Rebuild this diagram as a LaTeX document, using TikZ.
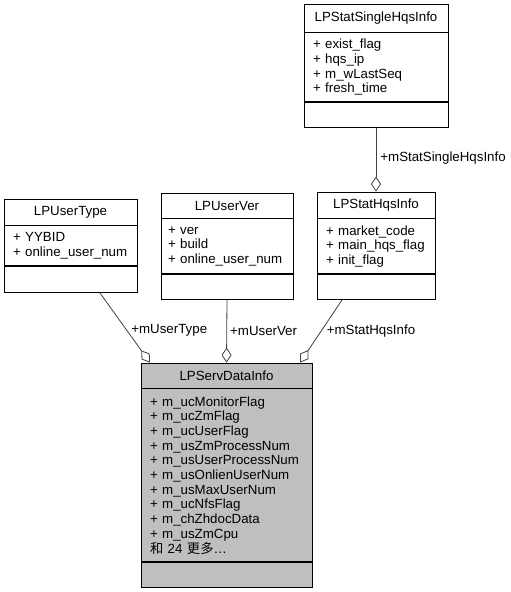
\documentclass[tikz,border=0pt]{standalone}
\usepackage{fontspec}
\setmainfont{Liberation Sans}
\newfontfamily\cjk{Noto Sans CJK SC}
\usepackage{tikz}
\usetikzlibrary{arrows.meta, positioning}
\definecolor{edgegray}{HTML}{404040}
\definecolor{boxgray}{HTML}{BFBFBF}
\tikzstyle{classtitle} = [rectangle, draw=black, line width=0.8pt, inner sep=0pt, font=\fontsize{13.3}{14.7}\selectfont]
\tikzstyle{classattr} = [rectangle, draw=black, line width=0.8pt, inner xsep=9pt, inner ysep=0pt, align=left, font=\fontsize{13.3}{14.7}\selectfont]
\tikzstyle{arrow} = [draw=edgegray, line width=0.8pt, -{Diamond[open, length=15pt, width=10pt]}]
\tikzstyle{role} = [font=\fontsize{13.3}{14.7}\selectfont, inner sep=3pt]

\begin{document}
\begin{tikzpicture}[x=1pt, y=-1pt]
\useasboundingbox (0,0) rectangle (511,592);
% LPStatSingleHqsInfo
\node [classtitle, minimum width=144pt, minimum height=28pt] (stitle) at (376,18) {LPStatSingleHqsInfo};
\node [classattr, text width=126pt, minimum height=69pt] (sattr) [below=0pt of stitle] {+ exist\_flag\\+ hqs\_ip\\+ m\_wLastSeq\\+ fresh\_time};
\node [classtitle, minimum width=144pt, minimum height=25pt] (sops) [below=0pt of sattr] {};
% LPStatHqsInfo
\node [classtitle, minimum width=118pt, minimum height=26pt] (htitle) at (376,205) {LPStatHqsInfo};
\node [classattr, text width=100pt, minimum height=55pt] (hattr) [below=0pt of htitle] {+ market\_code\\+ main\_hqs\_flag\\+ init\_flag};
\node [classtitle, minimum width=118pt, minimum height=25pt] (hops) [below=0pt of hattr] {};
% LPUserType
\node [classtitle, minimum width=133pt, minimum height=26pt] (uttitle) at (70.5,212) {LPUserType};
\node [classattr, text width=115pt, minimum height=40pt] (utattr) [below=0pt of uttitle] {+ YYBID\\+ online\_user\_num};
\node [classtitle, minimum width=133pt, minimum height=26pt] (utops) [below=0pt of utattr] {};
% LPUserVer
\node [classtitle, minimum width=132pt, minimum height=25pt] (uvtitle) at (227,205.5) {LPUserVer};
\node [classattr, inner xsep=7pt, text width=118pt, minimum height=55pt] (uvattr) [below=0pt of uvtitle] {+ ver\\+ build\\+ online\_user\_num};
\node [classtitle, minimum width=132pt, minimum height=25pt] (uvops) [below=0pt of uvattr] {};
% LPServDataInfo
\node [classtitle, fill=boxgray, minimum width=171pt, minimum height=25pt] (dtitle) at (226.5,375.5) {LPServDataInfo};
\node [classattr, fill=boxgray, text width=153pt, minimum height=173pt] (dattr) [below=0pt of dtitle] {+ m\_ucMonitorFlag\\+ m\_ucZmFlag\\+ m\_ucUserFlag\\+ m\_usZmProcessNum\\+ m\_usUserProcessNum\\+ m\_usOnlienUserNum\\+ m\_usMaxUserNum\\+ m\_ucNfsFlag\\+ m\_chZhdocData\\+ m\_usZmCpu\\{\cjk 和} 24 {\cjk 更多}…};
\node [classtitle, fill=boxgray, minimum width=171pt, minimum height=25pt] (dops) [below=0pt of dattr] {};
% connectors
\draw [arrow] (sops.south) -- node [role, right=1pt, pos=0.48] {+mStatSingleHqsInfo} (htitle.north);
\draw [arrow] ([xshift=29.5pt]utops.south) -- node [role, right=1pt, pos=0.54] {+mUserType} ([xshift=-76.5pt]dtitle.north);
\draw [arrow] (uvops.south) -- node [role, right=0pt, pos=0.49] {+mUserVer} (dtitle.north);
\draw [arrow] ([xshift=-34pt]hops.south) -- node [role, right=2pt, pos=0.49] {+mStatHqsInfo} ([xshift=73.5pt]dtitle.north);
\end{tikzpicture}
\end{document}
